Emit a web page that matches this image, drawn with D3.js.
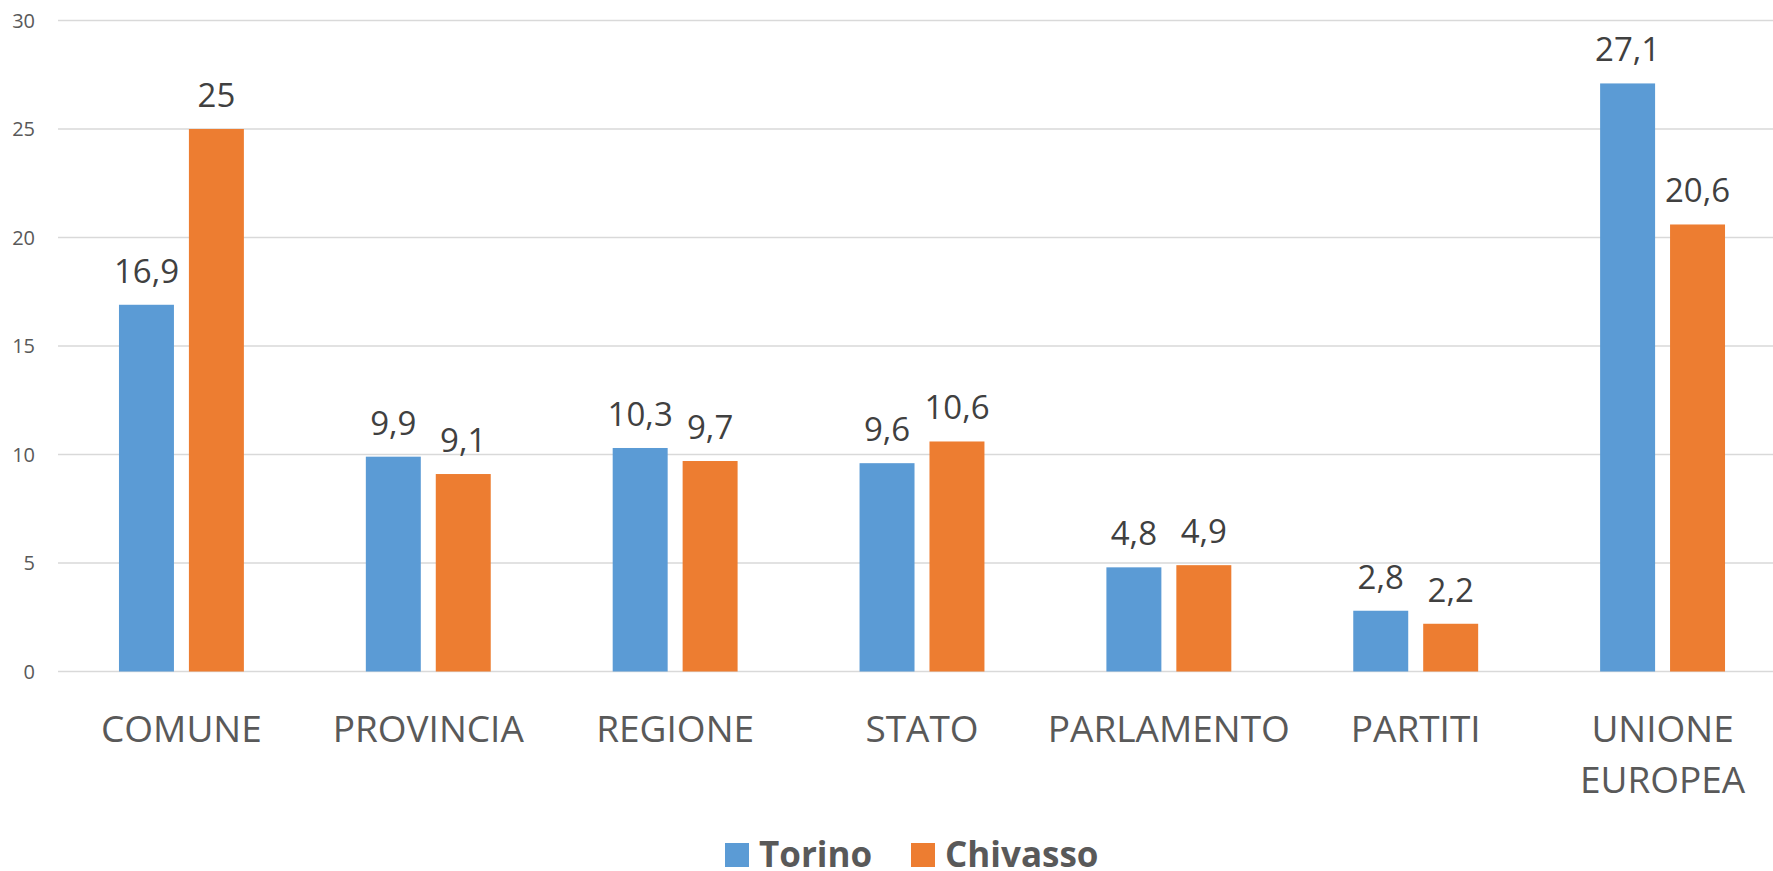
<!DOCTYPE html>
<html>
<head>
<meta charset="utf-8">
<script src="https://cdn.jsdelivr.net/npm/d3@7"></script>
<style>
  body { margin: 0; background: #fff; }
  svg { display: block; }
</style>
</head>
<body>
<svg width="1773" height="871"></svg>
<script>
const categories = [["COMUNE"], ["PROVINCIA"], ["REGIONE"], ["STATO"], ["PARLAMENTO"], ["PARTITI"], ["UNIONE", "EUROPEA"]];
const seriesNames = ["Torino", "Chivasso"];
const torino = [16.9, 9.9, 10.3, 9.6, 4.8, 2.8, 27.1];
const chivasso = [25, 9.1, 9.7, 10.6, 4.9, 2.2, 20.6];
const yTicks = [0, 5, 10, 15, 20, 25, 30];
const colors = ["#5B9BD5", "#ED7D31"];

const svg = d3.select("svg");
const font = "'Open Sans', sans-serif";

const plotLeft = 58, plotRight = 1786, plotTop = 20.5, plotBottom = 671.5;
const catKeys = categories.map(c => c.join(" "));

const x = d3.scaleBand().domain(catKeys).range([plotLeft, plotRight]).paddingInner(0.494).paddingOuter(0.247);
const xs = d3.scaleBand().domain(seriesNames).range([0, x.bandwidth()]).paddingInner(0.214);
const y = d3.scaleLinear().domain([0, 30]).range([plotBottom, plotTop]);

// gridlines
svg.append("g").selectAll("line").data(yTicks).join("line")
   .attr("x1", plotLeft).attr("x2", 1773)
   .attr("y1", d => y(d)).attr("y2", d => y(d))
   .attr("stroke", "#d9d9d9")
   .attr("stroke-width", 1.5);

// y tick labels
svg.append("g").selectAll("text").data(yTicks).join("text")
   .attr("x", 35).attr("y", d => y(d) + 7)
   .attr("text-anchor", "end")
   .attr("font-size", "20px")
   .attr("font-family", font)
   .attr("fill", "#595959")
   .text(d => d);

const data = catKeys.map((k, i) => ({ key: k, values: [torino[i], chivasso[i]] }));
const fmt = v => String(v).replace(".", ",");

const groups = svg.append("g").selectAll("g").data(data).join("g")
   .attr("transform", d => `translate(${x(d.key)},0)`);

groups.selectAll("rect").data(d => d.values.map((v, j) => ({ s: seriesNames[j], v, j })))
   .join("rect")
   .attr("x", d => xs(d.s))
   .attr("width", xs.bandwidth())
   .attr("y", d => y(d.v))
   .attr("height", d => y(0) - y(d.v))
   .attr("fill", d => colors[d.j]);

groups.selectAll("text.val").data(d => d.values.map((v, j) => ({ s: seriesNames[j], v, j })))
   .join("text")
   .attr("class", "val")
   .attr("x", d => xs(d.s) + xs.bandwidth() / 2)
   .attr("y", d => y(d.v) - 22)
   .attr("text-anchor", "middle")
   .attr("font-size", "33px")
   .attr("font-family", font)
   .attr("fill", "#404040")
   .text(d => fmt(d.v));

// category labels
svg.append("g").selectAll("text").data(categories).join("text")
   .attr("x", (d, i) => x(catKeys[i]) + x.bandwidth() / 2)
   .attr("y", 742)
   .attr("text-anchor", "middle")
   .attr("font-size", "37px")
   .attr("font-family", font)
   .attr("fill", "#595959")
   .selectAll("tspan").data(d => d).join("tspan")
   .attr("x", function () { return this.parentNode.getAttribute("x"); })
   .attr("dy", (d, i) => i === 0 ? 0 : 51)
   .text(d => d);

// legend
const legendX = [725, 911];
const legend = svg.append("g").selectAll("g").data(seriesNames).join("g")
   .attr("transform", (d, i) => `translate(${legendX[i]},843)`);
legend.append("rect")
   .attr("width", 24).attr("height", 24)
   .attr("fill", (d, i) => colors[i]);
legend.append("text")
   .attr("x", 34).attr("y", 24)
   .attr("font-size", "35px")
   .attr("font-weight", "bold")
   .attr("font-family", font)
   .attr("fill", "#595959")
   .text(d => d);
</script>
</body>
</html>
